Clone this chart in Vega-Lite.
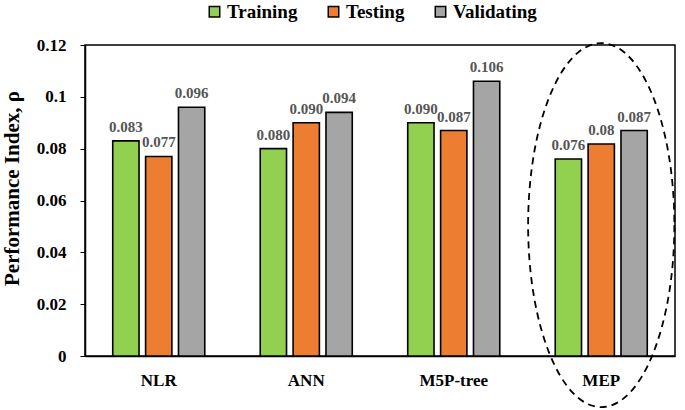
{
  "$schema": "https://vega.github.io/schema/vega-lite/v6.json",
  "width": 590,
  "height": 311,
  "autosize": "none",
  "padding": {"left": 85, "top": 45, "right": 10, "bottom": 54},
  "background": "white",
  "config": {
    "font": "Liberation Serif",
    "view": {"stroke": "black", "strokeWidth": 1.5}
  },
  "datasets": {
    "bars": [
      {"model": "NLR", "series": "Training", "value": 0.083, "label": "0.083"},
      {"model": "NLR", "series": "Testing", "value": 0.077, "label": "0.077"},
      {"model": "NLR", "series": "Validating", "value": 0.096, "label": "0.096"},
      {"model": "ANN", "series": "Training", "value": 0.080, "label": "0.080"},
      {"model": "ANN", "series": "Testing", "value": 0.090, "label": "0.090"},
      {"model": "ANN", "series": "Validating", "value": 0.094, "label": "0.094"},
      {"model": "M5P-tree", "series": "Training", "value": 0.090, "label": "0.090"},
      {"model": "M5P-tree", "series": "Testing", "value": 0.087, "label": "0.087"},
      {"model": "M5P-tree", "series": "Validating", "value": 0.106, "label": "0.106"},
      {"model": "MEP", "series": "Training", "value": 0.076, "label": "0.076"},
      {"model": "MEP", "series": "Testing", "value": 0.0818, "label": "0.08"},
      {"model": "MEP", "series": "Validating", "value": 0.087, "label": "0.087"}
    ]
  },
  "layer": [
    {
      "data": {"name": "bars"},
      "mark": {"type": "bar", "stroke": "black", "strokeWidth": 1.6},
      "encoding": {
        "x": {
          "field": "model", "type": "nominal",
          "sort": ["NLR", "ANN", "M5P-tree", "MEP"],
          "scale": {"paddingInner": 0.376, "paddingOuter": 0.188},
          "axis": {
            "title": null, "labelAngle": 0, "labelFontSize": 17, "labelFontWeight": "bold",
            "labelColor": "black", "ticks": false, "labelPadding": 16,
            "domainColor": "black", "domainWidth": 1.5, "labelFont": "Liberation Serif"
          }
        },
        "xOffset": {
          "field": "series", "type": "nominal",
          "sort": ["Training", "Testing", "Validating"],
          "scale": {"paddingInner": 0.2}
        },
        "y": {
          "field": "value", "type": "quantitative",
          "scale": {"domain": [0, 0.12]},
          "axis": {
            "title": "Performance Index, ρ", "titleFontSize": 21, "titleFontWeight": "bold",
            "titleColor": "black", "titleFont": "Liberation Serif", "titlePadding": 14, "titleY": 143,
            "values": [0, 0.02, 0.04, 0.06, 0.08, 0.1, 0.12], "labelExpr": "'' + datum.value",
            "labelFontSize": 17, "labelFontWeight": "bold", "labelColor": "black",
            "labelFont": "Liberation Serif", "labelPadding": 14,
            "grid": false, "tickSize": 5, "tickColor": "black", "domainColor": "black", "domainWidth": 1.5
          }
        },
        "color": {
          "field": "series", "type": "nominal",
          "sort": ["Training", "Testing", "Validating"],
          "scale": {"domain": ["Training", "Testing", "Validating"], "range": ["#92D050", "#ED7D31", "#A5A5A5"]},
          "legend": {
            "title": null, "orient": "none", "direction": "horizontal",
            "legendX": 120, "legendY": -43, "padding": 0,
            "symbolType": "square", "symbolSize": 110, "symbolStrokeColor": "black", "symbolStrokeWidth": 1.5,
            "labelFont": "Liberation Serif", "labelFontSize": 19, "labelFontWeight": "bold",
            "labelColor": "black", "labelOffset": 3, "columnPadding": 26
          }
        }
      }
    },
    {
      "data": {"name": "bars"},
      "mark": {"type": "text", "dy": -9, "baseline": "alphabetic", "fontWeight": "bold", "fontSize": 15, "color": "#555555", "font": "Liberation Serif"},
      "encoding": {
        "x": {"field": "model", "type": "nominal", "sort": ["NLR", "ANN", "M5P-tree", "MEP"]},
        "xOffset": {"field": "series", "type": "nominal", "sort": ["Training", "Testing", "Validating"]},
        "y": {"field": "value", "type": "quantitative"},
        "text": {"field": "label"}
      }
    },
    {
      "data": {"name": "bars"},
      "transform": [{"filter": "datum.model === 'MEP' && datum.series === 'Testing'"}],
      "mark": {
        "type": "point",
        "shape": "M 1.03 0 C 1.03 1.4155 0.5689 2.563 0 2.563 C -0.5689 2.563 -1.03 1.4155 -1.03 0 C -1.03 -1.4155 -0.5689 -2.563 0 -2.563 C 0.5689 -2.563 1.03 -1.4155 1.03 0 Z",
        "size": 20164, "filled": false, "stroke": "black", "strokeWidth": 1.8, "strokeDash": [7, 5], "opacity": 1
      },
      "encoding": {
        "x": {"field": "model", "type": "nominal", "sort": ["NLR", "ANN", "M5P-tree", "MEP"]},
        "y": {"datum": 0.0505, "type": "quantitative"}
      }
    }
  ]
}
